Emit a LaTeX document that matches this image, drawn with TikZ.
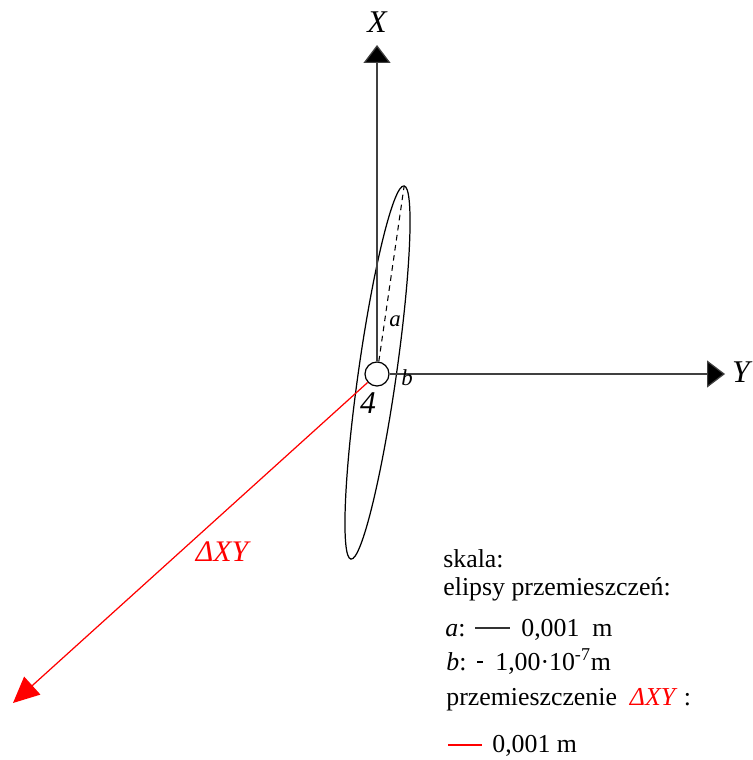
\documentclass[tikz,border=0pt]{standalone}
\usepackage{fontspec}
\setmainfont{Liberation Serif}
\usetikzlibrary{arrows.meta}

\begin{document}
\begin{tikzpicture}[x=0.02cm,y=-0.02cm,
    axis/.style={black!75,line width=0.7pt,-{Triangle[length=0.36cm,width=0.54cm,fill=black]}},
    dxyarrow/.style={red,line width=0.7pt,-{Triangle[length=0.52cm,width=0.48cm]}},
    big/.style={font=\fontsize{18}{20}\selectfont\itshape},
    legend/.style={anchor=base west,inner sep=0pt,font=\fontsize{14.7}{17}\selectfont}]
  \useasboundingbox (0,0) rectangle (753,760);

  % ellipse of point 4
  \draw[line width=0.7pt,rotate around={-8.1:(377.5,372.5)}] (377.5,372.5) ellipse [x radius=19,y radius=188.5];
  \coordinate (atop) at (404,187);
  \coordinate (xend) at (377,45);
  \coordinate (yend) at (725,374);
  \coordinate (dxy) at (13,703);

  \node[circle,draw,fill=white,line width=0.7pt,minimum size=0.48cm,inner sep=0pt] (p4) at (377,374) {};
  \draw[axis] (p4) -- (xend);
  \draw[axis] (p4) -- (yend);
  \draw[black,dash pattern=on 3.2pt off 2.6pt,line width=0.6pt] (p4) -- (atop);
  \draw[dxyarrow] (p4) -- (dxy);

  \node[big] (xlab) at (377,22) {X};
  \node[big] (ylab) at (741,372) {Y};
  \node[big] (n4) at (368,403) {4};
  \node[font=\fontsize{13}{15}\selectfont\itshape] (alab) at (395,321) {a};
  \node[font=\fontsize{13}{15}\selectfont\itshape] (blab) at (407,378) {b};
  \node[red,font=\fontsize{17}{20}\selectfont\itshape] (dlab) at (222,552) {ΔXY};

  % legend
  \node[legend] (l1) at (443,567) {skala:};
  \node[legend] (l2) at (443,595) {elipsy przemieszczeń:};
  \node[legend] (l3) at (445,636) {\textit{a}:};
  \draw[black!80,line width=0.6pt] (475,628) -- (510,628);
  \node[legend] (l3b) at (521,636) {0,001\ \ m};
  \node[legend] (l4) at (446,670) {\textit{b}:};
  \draw[line width=0.6pt] (477,662) -- (483,662);
  \node[legend] (l4b) at (495,670) {1,00·10\textsuperscript{-7}m};
  \node[legend] (l5) at (446,705) {przemieszczenie \ \textcolor{red}{\textit{ΔXY}} :};
  \draw[red,line width=0.7pt] (448,745) -- (482,745);
  \node[legend] (l6) at (492,752) {0,001 m};
\end{tikzpicture}
\end{document}
